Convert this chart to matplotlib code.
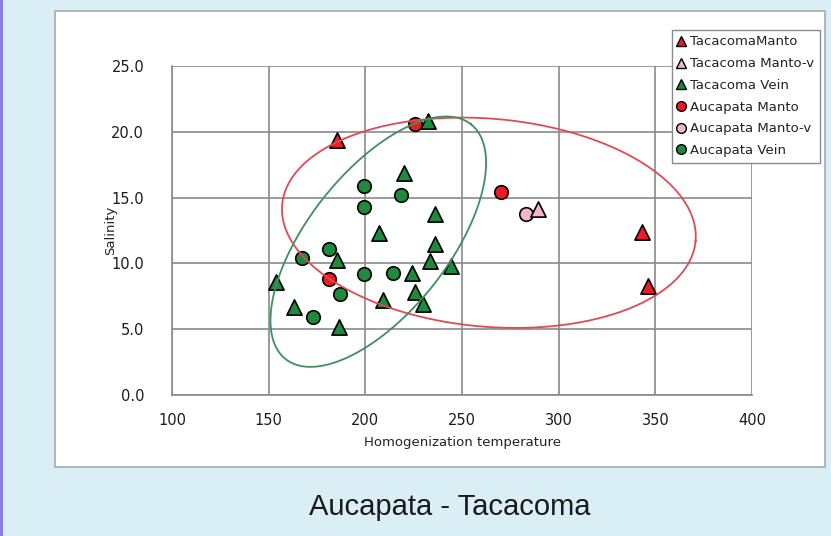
import numpy as np
import matplotlib
matplotlib.use("Agg")
import matplotlib.pyplot as plt
from matplotlib.patches import Rectangle
from matplotlib.lines import Line2D

# ---------------- data ----------------
tac_manto_x = [185.2, 343.2, 346.1]
tac_manto_y = [19.4, 12.4, 8.3]
tac_mantov_x = [289.4]
tac_mantov_y = [14.1]
tac_vein_x = [232.2, 220.1, 236.0, 206.9, 236.1, 185.3, 233.2, 244.1, 224.3,
              153.9, 225.8, 209.3, 229.9, 163.1, 186.2]
tac_vein_y = [20.8, 16.9, 13.75, 12.3, 11.45, 10.26, 10.2, 9.8, 9.3,
              8.6, 7.85, 7.2, 6.95, 6.7, 5.2]
auc_manto_x = [225.8, 181.2, 270.1]
auc_manto_y = [20.6, 8.8, 15.4]
auc_mantov_x = [283.0]
auc_mantov_y = [13.75]
auc_vein_x = [199.3, 218.4, 199.3, 181.2, 167.4, 199.3, 214.1, 187.0, 173.1]
auc_vein_y = [15.9, 15.2, 14.3, 11.07, 10.4, 9.2, 9.3, 7.7, 5.9]

x_ticks = [100, 150, 200, 250, 300, 350, 400]
y_ticks = [0, 5, 10, 15, 20, 25]
y_tick_labels = ["0.0", "5.0", "10.0", "15.0", "20.0", "25.0"]

legend_labels = ["TacacomaManto", "Tacacoma Manto-v", "Tacacoma Vein",
                 "Aucapata Manto", "Aucapata Manto-v", "Aucapata Vein"]

# ellipse outlines: centre (data), semi-axes (pixels), angle (deg, screen)
red_ell_center = (263.9, 13.09)
red_ell_axes = (207.5, 104.0)
red_ell_angle = -5.0
green_ell_center = (206.7, 11.65)
green_ell_axes = (149.6, 70.1)
green_ell_angle = 51.7

# ---------------- style ----------------
RED = "#ec1c24"
PINK = "#f4b4cc"
GREEN = "#1f8a3c"
BG = "#daeef6"
GRID = "#8a8a8a"

W, H = 831, 536
fig = plt.figure(figsize=(W / 100, H / 100), dpi=100)
fig.patch.set_facecolor(BG)

# white panel
fig.patches.append(Rectangle((55 / W, 1 - 467 / H), 770 / W, 456 / H,
                             transform=fig.transFigure, facecolor="white",
                             edgecolor="#a7b2b6", linewidth=1.3, zorder=-10))
# purple left edge
fig.patches.append(Rectangle((0, 0), 2.5 / W, 1, transform=fig.transFigure,
                             facecolor="#8a7edc", edgecolor="none", zorder=-10))

ax_l, ax_r, ax_t, ax_b = 172, 752, 66, 395
ax = fig.add_axes([ax_l / W, 1 - ax_b / H, (ax_r - ax_l) / W, (ax_b - ax_t) / H])
ax.set_zorder(5)
ax.set_facecolor("none")
ax.set_xlim(100, 400)
ax.set_ylim(0, 25)
ax.set_xticks(x_ticks)
ax.set_xticklabels([str(v) for v in x_ticks])
ax.set_yticks(y_ticks)
ax.set_yticklabels(y_tick_labels)
ax.tick_params(length=0, labelsize=10.5, labelcolor="#1c1c1c")
ax.tick_params(axis="y", pad=20)
ax.tick_params(axis="x", pad=13)
ax.grid(True, color=GRID, linewidth=1.2, zorder=1)
ax.set_axisbelow(True)
for s in ["top", "right"]:
    ax.spines[s].set_visible(False)
for s in ["left", "bottom"]:
    ax.spines[s].set_color(GRID)
    ax.spines[s].set_linewidth(1.2)

ax.set_xlabel("Homogenization temperature", fontsize=9.5, color="#222222", labelpad=6)
ax.set_ylabel("Salinity", fontsize=9.5, color="#222222", labelpad=-4)

ms_c = 95
ms_t = 120
ek = dict(edgecolors="black", linewidths=1.2, zorder=3)
ax.scatter(auc_vein_x, auc_vein_y, marker="o", s=ms_c, c=GREEN, **ek)
ax.scatter(auc_manto_x, auc_manto_y, marker="o", s=ms_c, c=RED, **ek)
ax.scatter(auc_mantov_x, auc_mantov_y, marker="o", s=ms_c, c=PINK, **ek)
ax.scatter(tac_vein_x, tac_vein_y, marker="^", s=ms_t, c=GREEN, **ek)
ax.scatter(tac_manto_x, tac_manto_y, marker="^", s=ms_t, c=RED, **ek)
ax.scatter(tac_mantov_x, tac_mantov_y, marker="^", s=ms_t, c=PINK, **ek)

# ellipses (pixel-space shape converted to data units)
sx = (ax_r - ax_l) / 300.0
sy = (ax_b - ax_t) / 25.0
t = np.linspace(0, 2 * np.pi, 400)


def draw_ellipse(center, axes_px, angle, color):
    a, b = axes_px
    ph = np.deg2rad(angle)
    u = a * np.cos(t) * np.cos(ph) - b * np.sin(t) * np.sin(ph)
    v = a * np.cos(t) * np.sin(ph) + b * np.sin(t) * np.cos(ph)
    ax.plot(center[0] + u / sx, center[1] + v / sy, color=color,
            linewidth=1.3, zorder=4, clip_on=False)


draw_ellipse(red_ell_center, red_ell_axes, red_ell_angle, "#df4a57")
draw_ellipse(green_ell_center, green_ell_axes, green_ell_angle, "#3f8f60")

# legend
face = [RED, PINK, GREEN, RED, PINK, GREEN]
mk = ["^", "^", "^", "o", "o", "o"]
handles = [Line2D([], [], linestyle="none", marker=m, markersize=7,
                  markerfacecolor=f, markeredgecolor="black", markeredgewidth=1.0)
           for m, f in zip(mk, face)]
leg = ax.legend(handles, legend_labels, loc="upper left",
                bbox_to_anchor=(671.5 / W, 1 - 29.5 / H),
                bbox_transform=fig.transFigure, fontsize=9.5,
                frameon=True, fancybox=False, framealpha=1,
                edgecolor="#8a8a8a", borderpad=0.45, labelspacing=0.66,
                handlelength=0.6, handletextpad=0.35, borderaxespad=0)
leg.get_frame().set_linewidth(1.0)
for txt in leg.get_texts():
    txt.set_color("#222222")

fig.text(450 / W, 1 - 507 / H, "Aucapata - Tacacoma", ha="center", va="center",
         fontsize=21, family="Liberation Sans", color="#1a1a1a")

fig.savefig("out.png", dpi=100, facecolor=BG)
